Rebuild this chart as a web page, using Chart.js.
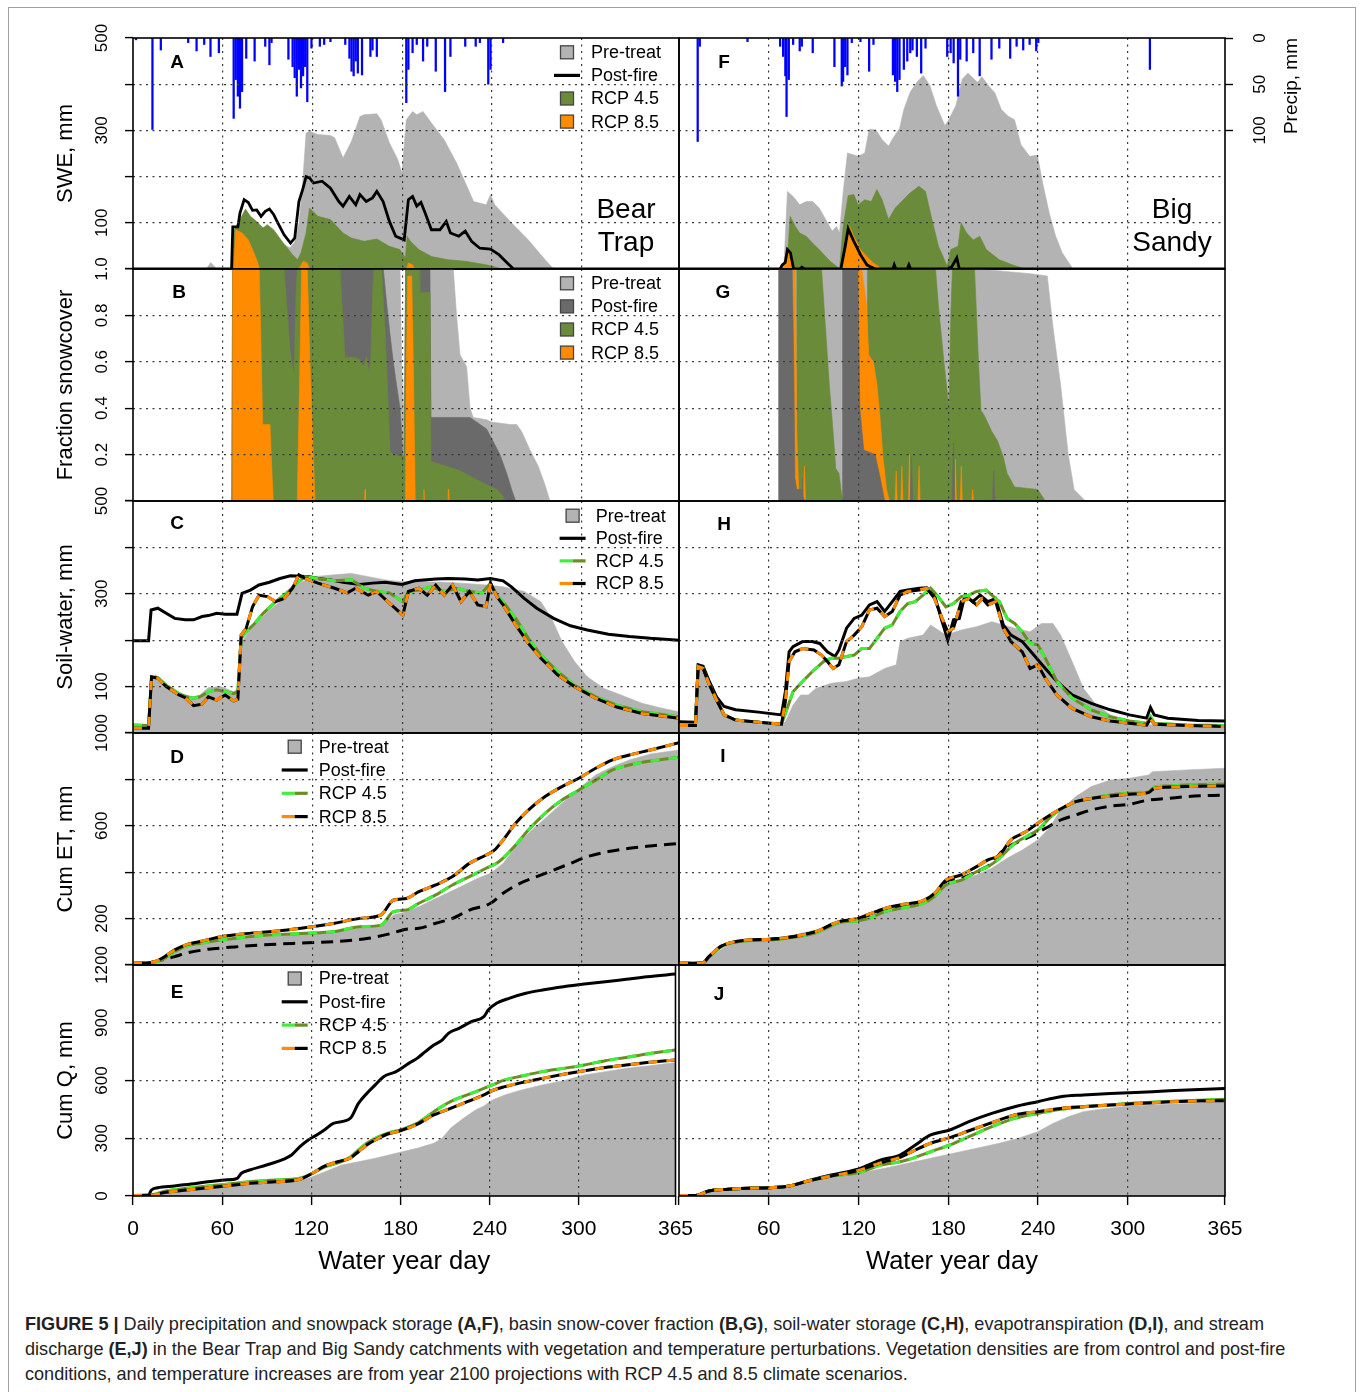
<!DOCTYPE html>
<html>
<head>
<meta charset="utf-8">
<title>Figure 5</title>
<script src="https://cdn.jsdelivr.net/npm/chart.js@4.4.1/dist/chart.umd.min.js"></script>
<style>
  html, body { margin: 0; padding: 0; background: #fff; }
  body { position: relative; width: 1363px; height: 1392px; overflow: hidden; font-family: "Liberation Sans", Arial, Helvetica, sans-serif; }
  .frame { position: absolute; left: 8px; top: 7px; width: 1346px; height: 1400px; border: 1px solid #a0a0a0; }
  canvas { position: absolute; }
  .caption { position: absolute; left: 25px; top: 1312px; font-size: 18.1px; line-height: 25px; color: #222; white-space: nowrap; }
</style>
</head>
<body>
<div class="frame"></div>
<div class="caption">
<b>FIGURE 5 |</b> Daily precipitation and snowpack storage <b>(A,F)</b>, basin snow-cover fraction <b>(B,G)</b>, soil-water storage <b>(C,H)</b>, evapotranspiration <b>(D,I)</b>, and stream<br>
discharge <b>(E,J)</b> in the Bear Trap and Big Sandy catchments with vegetation and temperature perturbations. Vegetation densities are from control and post-fire<br>
conditions, and temperature increases are from year 2100 projections with RCP 4.5 and 8.5 climate scenarios.
</div>
<script>
// ---- tick values / labels ----
const xTicks = [0, 60, 120, 180, 240, 300, 365];
const sweTicks = [0, 100, 200, 300, 400, 500];
const sweLabels = [100, 300, 500];
const fracTicks = [0, 0.2, 0.4, 0.6, 0.8, 1];
const fracLabels = [0.2, 0.4, 0.6, 0.8, 1];
const swcTicks = [0, 100, 200, 300, 400, 500];
const swcLabels = [100, 300, 500];
const etTicks = [0, 200, 400, 600, 800, 1000];
const etLabels = [200, 600, 1000];
const qTicks = [0, 300, 600, 900, 1200];
const qLabels = [0, 300, 600, 900, 1200];
const precipTicks = [0, 50, 100];
const seriesNames = ['Pre-treat', 'Post-fire', 'RCP 4.5', 'RCP 8.5'];

// ---- daily precipitation, mm  [water year day, mm] ----
const precipBt = [[2,2],[13,99],[18.6,13],[36.9,5],[42.5,14],[47.6,7],[51.8,20],[57.4,16],[67.3,87],[68.7,45],[70.1,63],[71.5,76],[72.9,58],[75.7,22],[81.3,25],[88.4,9],[91.2,29],[92.6,5],[103.9,23],[106.7,31],[108.1,43],[109.5,63],[110.9,34],[112.3,54],[113.7,41],[115.1,31],[116.5,69],[119.3,11],[124.9,9],[127.8,7],[132,4],[141.9,7],[144.7,22],[146.1,36],[147.5,41],[148.9,25],[150.3,38],[153.1,40],[158.7,20],[160.1,13],[163,20],[182.7,70],[184.1,34],[186.9,16],[189.7,7],[193.9,25],[196.7,9],[202.4,36],[208.6,58],[212.2,20],[222.1,9],[229.1,9],[231.9,5],[237.5,50],[239,34],[247.4,5]];
const precipBs = [[12.5,112],[13.9,9],[45.8,4],[67.6,9],[69.6,20],[71.1,41],[71.9,85],[73.4,45],[76.3,7],[80.7,14],[82.1,9],[89.4,16],[103.9,31],[108.8,52],[109.7,47],[111.1,31],[112.6,40],[115.5,5],[121.3,4],[127.1,36],[130,7],[143,40],[144.5,47],[145.9,58],[147.4,45],[150.3,34],[152.6,25],[154.6,16],[156.1,13],[159,20],[161.9,38],[164.8,11],[179.3,20],[181.6,16],[183.6,27],[186.5,63],[188,23],[192.3,25],[196.7,16],[201,41],[208.9,23],[214.1,11],[221.4,22],[225.7,9],[230.1,13],[234.4,7],[238.8,14],[240.2,5],[314.8,34]];

// ---- SWE, mm ----
const sweBtPre = [[49,0],[52,14],[56,0],[66,0],[66.7,80],[71,100],[75,122],[80,105],[86,90],[92,86],[97,64],[101,52],[105,46],[108,58],[111,100],[113.5,190],[115.7,294],[118,298],[123.6,291],[132,289],[134.8,284],[140.4,240],[146,276],[151.7,330],[154.5,334],[163,336],[165.8,323],[171.4,273],[177,237],[179.8,208],[182.7,323],[186.9,341],[189.7,334],[193.9,341],[199.5,316],[208,280],[216.4,229],[227.7,146],[236.1,139],[239,161],[241.8,139],[253,100],[264.3,63],[275.5,20],[281.2,0]];
const sweBtPost = [[0,0],[65.9,0],[66.7,91],[70.1,91],[71.5,121],[74.3,150],[77.1,144],[79.9,127],[82.7,128],[85.6,114],[88.4,125],[91.2,130],[94,118],[96.8,100],[101,74],[105.3,56],[108.1,67],[110.9,146],[113.7,175],[115.7,200],[118,197],[120.7,186],[126.4,190],[132,175],[137.6,146],[140.4,136],[144.6,157],[148.9,139],[151.7,161],[155.9,146],[160.1,154],[163,168],[167.2,146],[171.4,103],[175.6,71],[181.3,63],[184.1,150],[186.9,157],[189.7,136],[192.5,144],[195.3,121],[199.5,85],[205.2,85],[209.4,103],[212.2,78],[217.8,71],[222.1,82],[226.3,60],[231.9,45],[239,43],[244.6,31],[250.2,13],[254.4,0],[365,0]];
const sweBtR45 = [[66.7,0],[67.8,85],[71.5,107],[75.2,130],[78.5,114],[82.7,103],[86.9,89],[89.8,96],[94,85],[99.6,60],[106.7,31],[110,20],[112.3,35],[115.7,78],[118,132],[123.6,114],[132,107],[140.4,78],[146,67],[154.5,60],[163,65],[171.4,49],[178.4,42],[182.1,24],[183.2,71],[185.5,60],[191.1,42],[199.5,27],[210.8,20],[222.1,17],[236.1,9],[247.4,0]];
const sweBtR85 = [[67.3,0],[68.7,85],[72.9,78],[77.1,63],[79.9,42],[82.7,20],[84.7,0],[110.9,0],[113.7,17],[116.5,13],[118,0],[182.7,0],[184.1,13],[186.9,9],[188.3,0]];
const sweBsPre = [[70,0],[70.5,30],[72.5,168],[76.3,157],[80.7,139],[85,146],[89.4,146],[93.7,132],[98.1,107],[102.4,82],[105.3,92],[107.3,78],[109.7,165],[112.6,251],[116.9,247],[119.8,244],[124.2,251],[127.1,302],[131.4,302],[135.8,280],[140.1,266],[143,283],[147.4,304],[150.3,345],[154.6,383],[159,404],[163.3,419],[167.7,397],[172,354],[177.8,310],[180.7,325],[185.1,354],[189.4,411],[193.2,424],[196.6,413],[199.6,404],[202.5,416],[206.8,397],[211.2,381],[215.5,345],[219.9,331],[224.3,323],[228.6,269],[234.4,244],[239.6,246],[243.1,186],[247.5,121],[251.8,71],[256.2,35],[263.4,0]];
const sweBsPost = [[0,0],[67.6,0],[69,9],[71,14],[72.5,42],[74.5,35],[76.5,2],[78,0],[80.7,0],[82.1,4],[84.1,0],[108.2,0],[111.1,49],[113.1,87],[116.9,60],[121.3,31],[125.6,9],[128.5,4],[131.4,0],[143,0],[143.9,9],[145,0],[152.6,0],[153.7,9],[154.9,0],[179.3,0],[182.2,4],[185.7,24],[187.4,0],[365,0]];
const sweBsR45 = [[72,0],[74.3,114],[77.8,92],[80.7,78],[85,71],[89.4,56],[93.7,42],[101,17],[105.3,6],[107.3,0],[109.7,92],[113.1,159],[116.9,161],[119.8,139],[124.2,150],[128.5,146],[132.3,172],[135.8,150],[140.1,107],[144.5,132],[148.8,146],[154.6,165],[160.4,179],[164.8,168],[169.1,107],[173.5,49],[179.3,6],[181.6,42],[186.5,49],[188.6,100],[192.3,78],[196.7,63],[201.1,71],[205.4,42],[214.1,20],[222.8,9],[231.5,0]];
const sweBsR85 = [[67.6,0],[70.5,17],[73.4,42],[75.7,24],[77.2,0],[108.2,0],[111.1,49],[114,92],[116.9,71],[121.3,42],[125.6,27],[130,13],[135.8,0]];

// ---- fraction snow cover ----
const fracBtPre = [[65.9,0],[66.6,1],[178.5,1],[179.6,0.6],[180.7,0.36],[181.6,0.6],[182.3,1],[214.1,1],[216.3,0.8],[218.6,0.63],[223,0.58],[225.3,0.4],[227.5,0.36],[236.4,0.35],[239.7,0.34],[252,0.33],[256.5,0.33],[259.8,0.3],[265.4,0.22],[270.9,0.15],[275.4,0.07],[278.7,0]];
const fracBtPost = [[65.9,0],[66.6,1],[167.3,1],[169.6,0.85],[171.8,0.72],[174,0.6],[176.2,0.5],[178.5,0.4],[179.6,0.3],[180.3,0.17],[181.1,0.17],[181.8,0.5],[182.3,1],[198.5,1],[199.2,0.36],[225.3,0.36],[236.4,0.31],[239.7,0.27],[245.3,0.2],[249.8,0.12],[253.1,0.05],[255.8,0]];
const fracBtR45 = [[66.6,0],[66.7,1],[100.9,1],[102.7,0.85],[103.8,0.75],[105,0.65],[106.1,0.6],[107.6,0.54],[109,0.9],[109.8,1],[138.4,1],[141.7,0.62],[147.3,0.62],[151.7,0.61],[154,0.58],[156.2,0.62],[157.8,0.55],[158.9,0.6],[160.2,0.9],[161.1,1],[166.2,1],[168.4,0.75],[170.7,0.4],[171.8,0.21],[174,0.2],[179.6,0.19],[181.4,0.2],[182.3,1],[191.2,1],[191.8,0.9],[198.5,0.9],[199.2,0.17],[209.7,0.15],[218.6,0.13],[227.5,0.1],[236.4,0.07],[243.1,0.05],[247.5,0.02],[248.7,0]];
const fracBtR85 = [[66.5,0],[66.6,1],[84.4,1],[85.3,0.75],[86.7,0.33],[91.6,0.33],[92.7,0.15],[93.8,0],[109.8,0],[111.6,0.6],[112.7,1],[116.5,1],[118.3,0.6],[121.7,0],[154.8,0],[155.1,0.05],[155.4,0],[182.2,0],[182.6,0.5],[183.6,0.97],[186.3,0.97],[187.4,0.6],[188.7,0],[194.2,0],[194.5,0.05],[194.8,0],[210.5,0],[210.8,0.05],[211.1,0]];
const fracBsPre = [[66.3,0],[66.7,1],[200,1],[234.7,0.98],[246.2,0.97],[250,0.75],[255.1,0.5],[260.2,0.2],[264.1,0.05],[271.7,0]];
const fracBsPost = [[66.3,0],[66.7,1],[75.7,1],[76.7,0.6],[77.5,0.1],[78.7,0.05],[82.4,0.05],[82.6,0.1],[83,0.02],[84,0],[109.2,0],[109.4,1],[119.6,1],[120.9,0.4],[123.5,0.22],[127.3,0.21],[131.1,0.2],[134.5,0.1],[137.5,0],[154.5,0],[155.4,0.19],[156.3,0],[182.6,0],[183.5,0.25],[184.4,0],[209.5,0],[210.4,0.13],[211.3,0]];
const fracBsR45 = [[78.5,0],[78.7,1],[95.3,1],[97.9,0.75],[100.5,0.5],[103,0.3],[104.8,0.14],[106.9,0.12],[108.9,0.02],[109.9,0],[125.8,0],[126,1],[171.5,1],[173.3,0.85],[177.1,0.6],[180.5,0.4],[181.7,0.8],[182.8,1],[197.6,1],[200.2,0.6],[201.9,0.39],[204,0.37],[209.1,0.3],[212.9,0.26],[216.8,0.19],[219.3,0.12],[224.4,0.06],[239.8,0.05],[244.9,0]];
const fracBsR85 = [[75.9,0],[76.2,1],[77.7,1],[78.7,0.3],[80,0.05],[81,0],[83,0],[83.8,0.15],[84.6,0],[117.8,0],[118.4,1],[122.2,1],[125.3,0.85],[126.8,0.63],[129.9,0.6],[132.4,0.5],[134.5,0.35],[136.2,0.2],[138.8,0.05],[140.6,0],[144.5,0],[145.2,0.13],[145.9,0],[148.3,0],[149,0.15],[149.7,0],[153.4,0],[154.1,0.2],[154.8,0],[159.8,0],[160.5,0.15],[161.2,0],[184.1,0],[184.8,0.18],[185.5,0],[188,0],[188.7,0.15],[189.4,0],[195.8,0],[196.3,0.05],[196.8,0],[209.7,0],[210.4,0.06],[211.1,0]];

// ---- soil water, mm ----
const swcBtPre = [[0,14],[10.4,12],[12.1,121],[15.2,125],[22.2,103],[30.7,85],[36.3,75],[44.8,82],[50.4,98],[58.8,100],[67.3,89],[70.1,96],[72.3,193],[75.7,211],[81.3,233],[89.8,261],[98.2,283],[106.7,312],[112.3,325],[120.7,337],[134.8,341],[146.1,344],[157.3,337],[168.6,330],[179.8,326],[191.1,326],[208,325],[219.3,323],[236.1,319],[247.4,315],[261.5,305],[272.7,283],[279.8,247],[286.8,197],[295.2,154],[303.7,121],[314.9,96],[326.2,82],[340.3,64],[354.3,53],[365,46]];
const swcBtPost = [[0,199],[10.4,199],[12.1,265],[16.6,269],[22.2,258],[27.9,247],[34.9,244],[40.5,244],[46.2,251],[50.4,253],[56,258],[61.6,256],[69.5,256],[72.9,301],[78.5,308],[84.2,319],[91.2,325],[98.2,333],[105.3,339],[112.3,338],[117.9,337],[123.6,333],[132,330],[140.4,325],[151.7,320],[160.1,323],[168.6,325],[179.8,320],[188.3,328],[202.4,332],[210.8,333],[222.1,332],[230.5,330],[239,333],[247.4,328],[253,315],[261.5,290],[269.9,269],[281.2,247],[292.4,231],[303.7,222],[317.8,213],[331.8,208],[345.9,204],[365,200]];
const swcBtR45 = [[0,17],[10.4,16],[12.4,121],[16.6,119],[22.2,103],[30.7,85],[36.3,78],[40.5,75],[44.8,78],[50.4,89],[56,93],[61.6,89],[67.3,85],[70.1,89],[72.3,204],[75.7,218],[81.3,236],[87,258],[95.4,283],[103.9,305],[109.5,323],[115.1,337],[123.6,333],[134.8,328],[146.1,330],[154.5,312],[163,305],[171.4,302],[177,290],[180.4,283],[184.1,305],[191.1,308],[199.5,315],[208,305],[216.4,312],[224.9,305],[233.3,302],[239,323],[243.2,297],[247.4,283],[255.8,247],[264.3,204],[272.7,168],[284,132],[295.2,103],[309.3,78],[323.4,60],[340.3,46],[365,35]];
const swcBtR85 = [[0,10],[10.4,10],[12.4,121],[16.6,118],[22.2,100],[30.7,82],[34.9,76],[40.5,59],[46.2,62],[50.4,78],[56,71],[61.6,82],[67.3,69],[70.1,73],[72.3,211],[75.7,226],[79.9,272],[84.2,297],[89.8,294],[95.4,283],[101,290],[106.7,312],[110.9,341],[115.1,333],[123.6,323],[134.8,312],[143.3,302],[148.9,312],[157.3,297],[163,305],[171.4,280],[180.4,254],[184.1,305],[191.1,312],[196.7,297],[202.4,319],[208,297],[213.6,319],[219.3,283],[224.9,305],[230.5,276],[236.1,272],[239,323],[243.2,294],[247.4,276],[255.8,233],[264.3,193],[272.7,161],[284,125],[295.2,100],[309.3,75],[323.4,56],[340.3,42],[365,32]];
const swcBsPre = [[0,17],[11,17],[12.8,139],[16.1,136],[19.9,103],[25.1,68],[30.2,39],[37.8,24],[53.2,19],[68.5,17],[71.1,24],[76.2,60],[81.3,82],[86.4,82],[91.5,96],[101.7,107],[112,111],[119.6,118],[127.3,121],[137.5,139],[145.2,147],[147.8,197],[152.9,204],[163.1,211],[168.2,233],[178.4,211],[188.7,222],[198.9,229],[209.1,240],[216.8,233],[224.4,226],[234.7,218],[242.3,236],[250,236],[255.1,211],[262.8,154],[270.4,96],[278.1,64],[288.3,39],[301.1,24],[316.5,17],[339.5,14],[365,12]];
const swcBsPost = [[0,24],[11,23],[12.8,147],[16.1,144],[19.9,114],[25.1,78],[30.2,57],[37.8,50],[53.2,45],[68.5,39],[71.1,89],[73.6,175],[76.2,186],[82.6,197],[89,197],[94.1,193],[99.2,175],[104.3,165],[106.9,179],[112,226],[117.1,247],[122.2,254],[127.3,276],[132.4,283],[137.5,262],[142.6,283],[147.8,305],[152.9,308],[160.5,312],[165.6,313],[170.8,297],[175.9,240],[179.7,200],[183.5,244],[187.4,247],[191.2,297],[196.3,283],[201.4,297],[206.5,283],[211.7,290],[216.8,233],[221.9,211],[229.5,197],[237.2,168],[244.9,139],[252.6,111],[262.8,82],[275.6,64],[288.3,50],[301.1,39],[312.6,32],[315.2,55],[317.7,39],[326.7,32],[347.1,27],[365,26]];
const swcBsR45 = [[0,17],[11,16],[12.8,143],[16.1,139],[19.9,107],[25.1,71],[30.2,39],[37.8,28],[53.2,23],[68.5,19],[72.3,53],[76.2,89],[82.6,111],[89,132],[96.6,154],[101.7,161],[106.9,161],[112,165],[117.1,168],[122.2,182],[127.3,182],[132.4,204],[137.5,226],[142.6,233],[147.8,262],[152.9,279],[158,283],[163.1,297],[168.2,312],[173.3,294],[178.4,272],[183.5,279],[188.7,294],[193.8,297],[198.9,305],[205.3,308],[209.1,297],[214.2,283],[219.3,247],[224.4,236],[229.5,218],[234.7,193],[239.8,190],[244.9,161],[252.6,111],[262.8,75],[275.6,50],[288.3,35],[301.1,26],[312.6,21],[315.2,35],[317.7,21],[339.5,17],[365,16]];
const swcBsR85 = [[0,16],[11,16],[12.8,143],[16.1,139],[19.9,107],[25.1,71],[30.2,39],[37.8,28],[53.2,23],[68.5,19],[71.1,68],[73.6,154],[77.5,175],[82.6,182],[90.2,179],[95.3,168],[99.2,154],[103,139],[106.9,147],[112,197],[117.1,211],[122.2,229],[127.3,265],[132.4,269],[137.5,251],[142.6,262],[147.8,297],[152.9,305],[160.5,308],[165.6,312],[170.8,290],[175.9,247],[179.7,218],[183.5,226],[188.7,283],[193.8,290],[198.9,276],[202.7,290],[206.5,276],[211.7,283],[216.8,226],[221.9,197],[229.5,175],[234.7,139],[239.8,147],[244.9,118],[252.6,82],[262.8,53],[275.6,35],[288.3,26],[301.1,21],[312.6,17],[315.2,30],[317.7,19],[339.5,16],[365,14]];

// ---- cumulative ET, mm ----
const etBtPre = [[0,7],[11,10],[19.4,24],[27.9,53],[34.9,72],[44.8,86],[58.8,101],[72.9,115],[92.6,122],[112.3,134],[134.8,144],[151.7,158],[165.8,165],[174.2,216],[182.7,230],[191.1,251],[205.2,295],[219.3,338],[230.5,374],[239,395],[247.4,438],[255.8,510],[264.3,568],[275.5,632],[286.8,697],[298.1,761],[309.3,819],[320.6,855],[331.8,884],[345.9,909],[365,927]];
const etBtPost = [[0,7],[11,10],[19.4,22],[27.9,36],[34.9,50],[50.4,68],[64.5,76],[84.2,86],[106.7,93],[134.8,101],[157.3,115],[171.4,134],[182.7,154],[191.1,158],[202.4,180],[213.6,201],[224.9,237],[239,266],[247.4,309],[258.7,352],[269.9,381],[281.2,409],[292.4,438],[303.7,467],[317.8,489],[331.8,503],[345.9,513],[365,524]];
const etBtR45 = [[0,7],[11,10],[19.4,22],[27.9,57],[34.9,79],[44.8,93],[58.8,108],[72.9,119],[92.6,129],[112.3,136],[134.8,144],[151.7,165],[165.8,172],[174.2,230],[182.7,237],[191.1,266],[202.4,302],[213.6,345],[224.9,381],[236.1,417],[244.6,445],[255.8,517],[264.3,582],[275.5,654],[286.8,711],[298.1,754],[309.3,797],[320.6,841],[331.8,862],[345.9,879],[365,895]];
const etBtR85 = [[0,7],[11,10],[19.4,29],[27.9,65],[34.9,86],[44.8,101],[58.8,122],[72.9,134],[92.6,144],[112.3,158],[134.8,180],[151.7,201],[165.8,216],[174.2,280],[182.7,287],[191.1,316],[202.4,345],[213.6,381],[224.9,438],[236.1,474],[241.8,496],[247.4,539],[255.8,611],[264.3,668],[275.5,726],[286.8,769],[298.1,805],[309.3,848],[320.6,884],[331.8,905],[345.9,927],[365,958]];
const etBsPre = [[0,7],[14.8,10],[19.9,29],[27.6,65],[32.7,86],[45.5,101],[60.8,108],[76.2,129],[91.5,151],[106.9,182],[117.1,201],[137.5,230],[163.1,266],[170.8,287],[178.4,345],[188.7,366],[198.9,388],[209.1,417],[219.3,460],[229.5,496],[239.8,539],[247.4,589],[255.1,668],[265.3,726],[275.6,769],[288.3,797],[301.1,805],[313.9,819],[316.5,833],[339.5,841],[365,848]];
const etBsPost = [[0,7],[16.1,10],[19.9,33],[27.6,79],[32.7,93],[45.5,105],[60.8,111],[76.2,122],[91.5,144],[106.9,187],[119.6,197],[127.3,216],[137.5,237],[147.8,254],[163.1,273],[170.8,302],[178.4,359],[188.7,374],[198.9,402],[209.1,438],[216.8,496],[224.4,524],[234.7,553],[244.9,589],[255.1,625],[265.3,647],[275.6,668],[288.3,685],[301.1,693],[313.9,711],[326.7,718],[339.5,726],[365,733]];
const etBsR45 = [[0,7],[16.1,10],[19.9,33],[27.6,76],[32.7,91],[45.5,105],[60.8,108],[76.2,119],[91.5,139],[106.9,182],[119.6,191],[127.3,201],[137.5,230],[147.8,244],[163.1,266],[170.8,295],[178.4,345],[188.7,366],[198.9,402],[206.5,424],[214.2,460],[224.4,524],[232.1,553],[239.8,582],[250,647],[257.7,680],[265.3,704],[275.6,718],[288.3,733],[301.1,740],[313.9,746],[317.7,766],[326.7,772],[339.5,776],[365,780]];
const etBsR85 = [[0,7],[16.1,10],[19.9,36],[27.6,79],[32.7,93],[45.5,108],[60.8,111],[76.2,122],[91.5,144],[106.9,187],[119.6,201],[127.3,220],[137.5,244],[147.8,259],[163.1,277],[170.8,309],[178.4,366],[188.7,388],[198.9,424],[206.5,453],[214.2,474],[221.9,539],[232.1,575],[239.8,611],[250,654],[257.7,682],[265.3,704],[275.6,718],[288.3,728],[301.1,736],[313.9,743],[317.7,761],[326.7,766],[339.5,769],[365,772]];

// ---- cumulative discharge, mm ----
const qBtPre = [[0,3],[11,4],[22.2,14],[36.3,26],[50.4,40],[64.5,52],[78.5,62],[95.4,74],[109.5,80],[117.9,92],[129.2,126],[140.4,161],[151.7,178],[163,196],[177,222],[191.1,248],[202.4,274],[208,300],[213.6,352],[222.1,403],[230.5,447],[236.1,468],[241.8,499],[250.2,525],[261.5,551],[275.5,577],[289.6,599],[303.7,629],[317.8,646],[331.8,663],[345.9,675],[365,693]];
const qBtPost = [[0,3],[10.4,5],[12.4,31],[16.6,43],[27.9,52],[39.1,62],[50.4,74],[61.6,83],[70.1,92],[72.9,118],[78.5,135],[89.8,161],[101,190],[106.7,213],[112.3,256],[117.9,291],[123.6,317],[129.2,346],[134.8,377],[146.1,403],[151.7,481],[157.3,533],[163,577],[168.6,620],[177,646],[185.5,689],[191.1,715],[196.7,750],[202.4,784],[208,810],[212.2,845],[219.3,871],[227.7,906],[236.1,932],[239,966],[244.6,1001],[253,1027],[264.3,1053],[275.5,1070],[289.6,1087],[303.7,1101],[317.8,1113],[331.8,1126],[345.9,1139],[365,1153]];
const qBtR45 = [[0,3],[11,4],[22.2,26],[36.3,40],[50.4,52],[64.5,62],[78.5,74],[95.4,83],[112.3,92],[120.7,118],[129.2,152],[140.4,178],[146.1,201],[151.7,239],[157.3,274],[163,300],[171.4,326],[179.8,343],[191.1,377],[202.4,438],[213.6,490],[224.9,525],[236.1,559],[241.8,577],[250.2,603],[261.5,623],[275.5,646],[289.6,663],[303.7,681],[317.8,703],[331.8,720],[345.9,738],[365,758]];
const qBtR85 = [[0,3],[11,4],[22.2,19],[36.3,31],[50.4,43],[64.5,54],[78.5,66],[95.4,74],[112.3,87],[120.7,118],[129.2,156],[140.4,184],[146.1,196],[151.7,230],[157.3,265],[163,291],[171.4,322],[179.8,339],[191.1,372],[202.4,421],[213.6,455],[224.9,490],[236.1,525],[241.8,548],[250.2,568],[261.5,589],[275.5,611],[289.6,632],[303.7,651],[317.8,668],[331.8,681],[345.9,693],[365,707]];
const qBsPre = [[0,3],[12.3,4],[19.9,23],[32.7,35],[45.5,40],[60.8,45],[71.1,52],[83.8,74],[101.7,100],[119.6,118],[137.5,144],[152.9,170],[168.2,196],[183.5,222],[198.9,248],[214.2,274],[227,300],[239.8,334],[250,377],[260.2,412],[270.4,438],[280.7,450],[296,464],[313.9,473],[339.5,481],[365,490]];
const qBsPost = [[0,3],[11,3],[19.9,26],[32.7,35],[45.5,40],[60.8,43],[73.6,52],[86.4,80],[101.7,109],[119.6,139],[135,187],[147.8,213],[158,265],[168.2,317],[181,343],[193.8,386],[209.1,429],[224.4,464],[239.8,490],[255.1,516],[270.4,525],[288.3,533],[301.1,537],[316.5,542],[339.5,551],[365,559]];
const qBsR45 = [[0,3],[11,3],[19.9,26],[32.7,35],[45.5,40],[60.8,43],[73.6,52],[86.4,78],[101.7,104],[119.6,121],[135,161],[147.8,178],[158,201],[168.2,230],[181,265],[193.8,308],[209.1,360],[224.4,403],[239.8,429],[255.1,450],[270.4,464],[288.3,473],[301.1,481],[316.5,487],[339.5,495],[365,502]];
const qBsR85 = [[0,3],[11,3],[19.9,26],[32.7,35],[45.5,40],[60.8,43],[73.6,52],[86.4,78],[101.7,104],[119.6,132],[135,173],[147.8,201],[158,239],[168.2,274],[181,303],[193.8,339],[209.1,381],[224.4,421],[239.8,438],[255.1,455],[270.4,464],[288.3,473],[301.1,478],[316.5,485],[339.5,492],[365,495]];

// ---- styling ----
const FONT = '"Liberation Sans", Arial, Helvetica, sans-serif';
Chart.defaults.font.family = FONT;
Chart.defaults.color = '#000';
const C = { pre: '#b3b3b3', dark: '#6a6a6a', green: '#6a8b3a', orange: '#ff8c00', lime: '#3ef03a', olive: '#6b8e23', blue: '#0000ff', grid: '#3a3a3a' };

// page layout of the plot boxes
const COLS = [[133, 679], [679, 1225]];
const ROWS = [[38, 269], [269, 501], [501, 733], [733, 965], [965, 1196]];
const M = 26;

const KIND = {
  swe: { max: 500, ticks: sweTicks, labels: sweLabels, title: 'SWE, mm' },
  frac: { max: 1, ticks: fracTicks, labels: fracLabels, title: 'Fraction snowcover', fmt: v => v.toFixed(1) },
  swc: { max: 500, ticks: swcTicks, labels: swcLabels, title: 'Soil-water, mm' },
  et: { max: 1000, ticks: etTicks, labels: etLabels, title: 'Cum ET, mm' },
  q: { max: 1200, ticks: qTicks, labels: qLabels, title: 'Cum Q, mm' }
};

const LEG = {
  snow: [{ box: C.pre }, { line: ['#000'] }, { box: C.green }, { box: C.orange }],
  frac: [{ box: C.pre }, { box: C.dark }, { box: C.green }, { box: C.orange }],
  lines: [{ box: C.pre }, { line: ['#000'] }, { line: [C.lime, C.olive] }, { line: [C.orange, '#000'] }]
};

const panels = [
  { col: 0, row: 0, kind: 'swe', letter: 'A', lx: 44, ly: 25, pre: sweBtPre, post: sweBtPost, r45: sweBtR45, r85: sweBtR85, precip: precipBt, site: ['Bear', 'Trap'], legend: 'snow', leg: { sx: 434, tx: 458, y0: 14.3, dy: 23.1 } },
  { col: 1, row: 0, kind: 'swe', letter: 'F', lx: 45, ly: 25, pre: sweBsPre, post: sweBsPost, r45: sweBsR45, r85: sweBsR85, precip: precipBs, site: ['Big', 'Sandy'], precipAxis: true },
  { col: 0, row: 1, kind: 'frac', letter: 'B', lx: 46, ly: 24, pre: fracBtPre, post: fracBtPost, r45: fracBtR45, r85: fracBtR85, legend: 'frac', leg: { sx: 434, tx: 458, y0: 14.3, dy: 23.1 } },
  { col: 1, row: 1, kind: 'frac', letter: 'G', lx: 44, ly: 24, pre: fracBsPre, post: fracBsPost, r45: fracBsR45, r85: fracBsR85, darkFront: true },
  { col: 0, row: 2, kind: 'swc', letter: 'C', lx: 44, ly: 23, pre: swcBtPre, post: swcBtPost, r45: swcBtR45, r85: swcBtR85, legend: 'lines', leg: { sx: 439.6, tx: 462.8, y0: 14.7, dy: 22.6 } },
  { col: 1, row: 2, kind: 'swc', letter: 'H', lx: 45, ly: 24, pre: swcBsPre, post: swcBsPost, r45: swcBsR45, r85: swcBsR85 },
  { col: 0, row: 3, kind: 'et', letter: 'D', lx: 44, ly: 25, pre: etBtPre, post: etBtPost, r45: etBtR45, r85: etBtR85, smooth: true, postDash: [12, 7], legend: 'lines', leg: { sx: 161.7, tx: 185.7, y0: 13.7, dy: 23.3 } },
  { col: 1, row: 3, kind: 'et', letter: 'I', lx: 44, ly: 24, pre: etBsPre, post: etBsPost, r45: etBsR45, r85: etBsR85, smooth: true, postDash: [12, 7] },
  { col: 0, row: 4, kind: 'q', letter: 'E', lx: 44, ly: 28, pre: qBtPre, post: qBtPost, r45: qBtR45, r85: qBtR85, smooth: true, legend: 'lines', leg: { sx: 161.7, tx: 185.7, y0: 13.5, dy: 23.3 } },
  { col: 1, row: 4, kind: 'q', letter: 'J', lx: 40, ly: 30, pre: qBsPre, post: qBsPost, r45: qBsR45, r85: qBsR85, smooth: true }
];

// ---- dataset helpers ----
const xy = arr => arr.map(([x, y]) => ({ x, y }));
const area = (data, color, order) => ({ type: 'line', data: xy(data), fill: 'origin', backgroundColor: color, borderColor: color, borderWidth: 0.6, pointRadius: 0, tension: 0, order });
const line = (data, color, order, opt) => Object.assign({ type: 'line', data: xy(data), fill: false, borderColor: color, borderWidth: 3, pointRadius: 0, tension: 0, order }, opt || {});

function datasetsFor(p) {
  if (p.kind === 'swe') {
    return [
      { type: 'bar', data: xy(p.precip), yAxisID: 'yp', backgroundColor: C.blue, barThickness: 1.6, borderWidth: 0, order: 0 },
      line(p.post, '#000', 1, { borderWidth: 2.8 }),
      area(p.r85, C.orange, 2),
      area(p.r45, C.green, 3),
      area(p.pre, C.pre, 4)
    ];
  }
  if (p.kind === 'frac') {
    const o = p.darkFront ? { dark: 1, r85: 2, r45: 3 } : { r85: 1, r45: 2, dark: 3 };
    return [area(p.r85, C.orange, o.r85), area(p.r45, C.green, o.r45), area(p.post, C.dark, o.dark), area(p.pre, C.pre, 4)];
  }
  const s = p.smooth ? { cubicInterpolationMode: 'monotone' } : {};
  return [
    line(p.r85, C.orange, 1, Object.assign({ borderDash: [9, 9] }, s)),
    line(p.r85, '#000', 2, s),
    line(p.r45, C.lime, 3, Object.assign({ borderDash: [9, 9] }, s)),
    line(p.r45, C.olive, 4, s),
    line(p.post, '#000', 5, Object.assign({ borderDash: p.postDash || [] }, s)),
    area(p.pre, C.pre, 6)
  ];
}

const inner = (lo, hi) => c => (c.tick && c.tick.value > lo + 1e-9 && c.tick.value < hi - 1e-9) ? C.grid : 'rgba(0,0,0,0)';

function deco(ch, p) {
  const ctx = ch.ctx, a = ch.chartArea, k = KIND[p.kind];
  ctx.save();
  ctx.fillStyle = '#000';
  ctx.textAlign = 'center';
  ctx.textBaseline = 'middle';
  if (p.col === 0) {
    const ys = ch.scales.y;
    ctx.font = '17px ' + FONT;
    k.labels.forEach(v => {
      ctx.save();
      ctx.translate(a.left - 31, ys.getPixelForValue(v));
      ctx.rotate(-Math.PI / 2);
      ctx.fillText(k.fmt ? k.fmt(v) : String(v), 0, 0);
      ctx.restore();
    });
  }
  if (p.precipAxis) {
    const ps = ch.scales.yp;
    ctx.font = '17px ' + FONT;
    precipTicks.forEach(v => {
      ctx.save();
      ctx.translate(a.right + 35, ps.getPixelForValue(v));
      ctx.rotate(-Math.PI / 2);
      ctx.fillText(String(v), 0, 0);
      ctx.restore();
    });
    ctx.save();
    ctx.font = '19px ' + FONT;
    ctx.translate(a.right + 67, ps.getPixelForValue(52));
    ctx.rotate(-Math.PI / 2);
    ctx.fillText('Precip, mm', 0, 0);
    ctx.restore();
  }
  ctx.font = 'bold 19px ' + FONT;
  ctx.fillText(p.letter, a.left + p.lx, a.top + p.ly);
  if (p.site) {
    ctx.font = '28px ' + FONT;
    p.site.forEach((s, i) => ctx.fillText(s, a.left + 493, a.top + 172 + i * 33));
  }
  if (p.legend) {
    LEG[p.legend].forEach((it, i) => {
      const y = a.top + p.leg.y0 + i * p.leg.dy, x = a.left + p.leg.sx;
      if (it.box) {
        ctx.fillStyle = it.box;
        ctx.fillRect(x - 6.5, y - 6.5, 13, 13);
        ctx.strokeStyle = '#444';
        ctx.lineWidth = 1.3;
        ctx.strokeRect(x - 6.5, y - 6.5, 13, 13);
      } else {
        ctx.lineWidth = 3.2;
        ctx.lineCap = 'butt';
        const segs = it.line.length;
        const w = 26 / segs;
        it.line.forEach((col, j) => {
          ctx.strokeStyle = col;
          ctx.beginPath();
          ctx.moveTo(x - 13 + j * w, y);
          ctx.lineTo(x - 13 + (j + 1) * w, y);
          ctx.stroke();
        });
      }
      ctx.fillStyle = '#000';
      ctx.font = '18px ' + FONT;
      ctx.textAlign = 'left';
      ctx.fillText(seriesNames[i], a.left + p.leg.tx, y + 1);
      ctx.textAlign = 'center';
    });
  }
  ctx.strokeStyle = '#000';
  ctx.lineWidth = 1.6;
  ctx.strokeRect(a.left, a.top, a.right - a.left, a.bottom - a.top);
  ctx.restore();
}

panels.forEach(p => {
  const [L, R] = COLS[p.col];
  const [T, B] = ROWS[p.row];
  const k = KIND[p.kind];
  const bottomRow = p.row === 4;
  const cx0 = p.col === 0 ? 0 : L - 12;
  const cx1 = p.col === 0 ? 705 : 1363;
  const cy0 = T - M;
  const cy1 = bottomRow ? 1292 : B + M;
  const w = cx1 - cx0, h = cy1 - cy0;
  const cv = document.createElement('canvas');
  cv.width = w; cv.height = h;
  cv.style.left = cx0 + 'px'; cv.style.top = cy0 + 'px';
  cv.style.width = w + 'px'; cv.style.height = h + 'px';
  document.body.appendChild(cv);

  const yW = L - cx0;
  const xH = bottomRow ? cy1 - B : 0;

  const scales = {
    x: {
      type: 'linear', min: 0, max: 365, offset: false,
      afterBuildTicks: s => { s.ticks = xTicks.map(v => ({ value: v })); },
      afterFit: s => { s.height = xH; },
      ticks: { display: bottomRow, autoSkip: false, maxRotation: 0, padding: 12, font: { size: 21 }, color: '#000',
        callback: v => (p.col === 1 && v === 0) ? '' : String(v) },
      grid: { z: 1, offset: false, color: inner(0, 365), lineWidth: 1.2, drawTicks: bottomRow, tickLength: 9, tickColor: '#000', tickWidth: 1.4, tickBorderDash: [] },
      border: { display: false, dash: [2, 4.5] },
      title: { display: bottomRow, text: 'Water year day', font: { size: 25.5 }, color: '#000', padding: { bottom: 15 } }
    },
    y: {
      type: 'linear', min: 0, max: k.max, position: 'left',
      afterBuildTicks: s => { s.ticks = k.ticks.map(v => ({ value: v })); },
      afterFit: s => { s.width = yW; },
      ticks: { display: false },
      grid: { z: 1, color: inner(0, k.max), lineWidth: 1.2, drawTicks: p.col === 0, tickLength: 8, tickColor: '#000', tickWidth: 1.4, tickBorderDash: [] },
      border: { display: false, dash: [2, 4.5] },
      title: { display: p.col === 0, text: k.title, font: { size: 22 }, color: '#000', padding: { top: 53 } }
    }
  };
  if (p.kind === 'swe') {
    scales.yp = {
      type: 'linear', min: 0, max: 250, reverse: true, position: 'right', display: !!p.precipAxis,
      afterBuildTicks: s => { s.ticks = precipTicks.map(v => ({ value: v })); },
      ticks: { display: false },
      grid: { drawOnChartArea: false, drawTicks: true, tickLength: 8, color: '#000', tickColor: '#000', tickWidth: 1.4 },
      border: { display: false }
    };
    if (p.precipAxis) scales.yp.afterFit = s => { s.width = cx1 - R; };
  }

  new Chart(cv, {
    type: 'line',
    data: { datasets: datasetsFor(p) },
    options: {
      responsive: false,
      maintainAspectRatio: false,
      animation: false,
      devicePixelRatio: 1,
      events: [],
      layout: { padding: { left: 0, top: M, right: p.precipAxis ? 0 : cx1 - R, bottom: bottomRow ? 0 : M } },
      plugins: { legend: { display: false }, tooltip: { enabled: false } },
      scales
    },
    plugins: [{ id: 'deco', afterDraw: ch => deco(ch, p) }]
  });
});
</script>
</body>
</html>
